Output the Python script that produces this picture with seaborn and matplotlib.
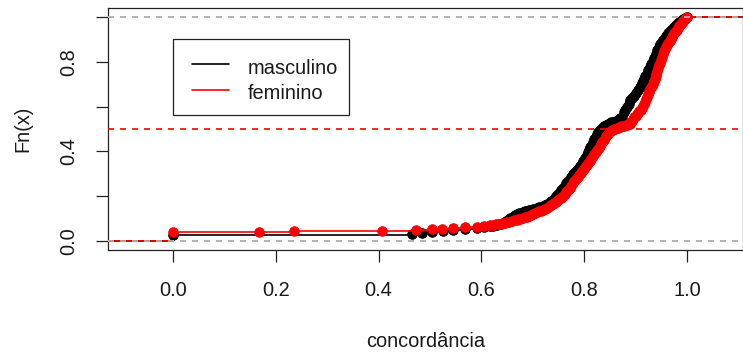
import numpy as np
import pandas as pd
import matplotlib
matplotlib.use("Agg")
import matplotlib.pyplot as plt
import seaborn as sns
from matplotlib.patches import Rectangle
from matplotlib.lines import Line2D

masc_x = [0.000, 0.465, 0.484, 0.504, 0.525, 0.545, 0.568, 0.591, 0.605,
          0.617, 0.622, 0.626, 0.630, 0.634, 0.638, 0.642, 0.647, 0.652, 0.656,
          0.661, 0.665, 0.669, 0.673, 0.677, 0.681, 0.685, 0.689, 0.692, 0.696,
          0.700, 0.704, 0.708, 0.712, 0.716, 0.720, 0.724, 0.728, 0.733, 0.736,
          0.740, 0.743, 0.746, 0.749, 0.752, 0.755, 0.759, 0.762, 0.765, 0.768,
          0.772, 0.775, 0.779, 0.782, 0.786, 0.789, 0.792, 0.795, 0.798, 0.801,
          0.805, 0.807, 0.810, 0.812, 0.815, 0.817, 0.820, 0.822, 0.825, 0.827,
          0.830, 0.833, 0.836, 0.839, 0.843, 0.846, 0.850, 0.853, 0.857, 0.861,
          0.865, 0.869, 0.873, 0.877, 0.880, 0.884, 0.887, 0.890, 0.893, 0.896,
          0.900, 0.904, 0.908, 0.912, 0.914, 0.917, 0.919, 0.922, 0.925, 0.928,
          0.930, 0.933, 0.936, 0.939, 0.942, 0.945, 0.948, 0.951, 0.954, 0.957,
          0.960, 0.963, 0.967, 0.970, 0.974, 0.978, 0.981, 0.985, 0.989, 0.993,
          0.996, 1.000]
masc_F = [0.027, 0.033, 0.037, 0.042, 0.046, 0.050, 0.055, 0.060, 0.063,
          0.066, 0.068, 0.070, 0.072, 0.075, 0.078, 0.082, 0.088, 0.095, 0.101,
          0.108, 0.114, 0.120, 0.124, 0.127, 0.130, 0.133, 0.136, 0.138, 0.140,
          0.142, 0.145, 0.147, 0.150, 0.152, 0.156, 0.160, 0.165, 0.170, 0.177,
          0.185, 0.192, 0.200, 0.209, 0.218, 0.228, 0.238, 0.248, 0.259, 0.269,
          0.279, 0.288, 0.298, 0.307, 0.317, 0.326, 0.336, 0.346, 0.356, 0.370,
          0.385, 0.396, 0.408, 0.419, 0.430, 0.442, 0.455, 0.466, 0.478, 0.487,
          0.495, 0.502, 0.508, 0.513, 0.518, 0.522, 0.527, 0.530, 0.534, 0.538,
          0.542, 0.548, 0.555, 0.575, 0.587, 0.600, 0.614, 0.628, 0.639, 0.650,
          0.662, 0.675, 0.690, 0.705, 0.715, 0.725, 0.736, 0.748, 0.763, 0.778,
          0.791, 0.805, 0.820, 0.835, 0.852, 0.868, 0.879, 0.890, 0.899, 0.908,
          0.918, 0.928, 0.938, 0.948, 0.957, 0.965, 0.972, 0.978, 0.984, 0.990,
          0.995, 1.000]

fem_x = [0.000, 0.167, 0.235, 0.407, 0.473, 0.504, 0.523, 0.545, 0.568, 0.591,
         0.606, 0.617, 0.622, 0.628, 0.634, 0.639, 0.642, 0.646, 0.650, 0.654,
         0.659, 0.664, 0.669, 0.672, 0.676, 0.680, 0.684, 0.688, 0.692, 0.696,
         0.700, 0.704, 0.708, 0.712, 0.716, 0.720, 0.724, 0.728, 0.733, 0.736,
         0.739, 0.742, 0.745, 0.748, 0.751, 0.754, 0.757, 0.760, 0.762, 0.765,
         0.767, 0.770, 0.772, 0.775, 0.778, 0.781, 0.784, 0.787, 0.790, 0.793,
         0.796, 0.799, 0.802, 0.805, 0.808, 0.811, 0.814, 0.817, 0.820, 0.823,
         0.825, 0.828, 0.830, 0.833, 0.835, 0.838, 0.840, 0.842, 0.844, 0.847,
         0.849, 0.852, 0.855, 0.858, 0.860, 0.863, 0.866, 0.869, 0.872, 0.875,
         0.878, 0.881, 0.884, 0.887, 0.889, 0.891, 0.893, 0.895, 0.897, 0.900,
         0.902, 0.905, 0.907, 0.910, 0.912, 0.914, 0.916, 0.918, 0.920, 0.922,
         0.924, 0.927, 0.929, 0.931, 0.933, 0.935, 0.937, 0.939, 0.940, 0.942,
         0.944, 0.946, 0.948, 0.950, 0.952, 0.954, 0.956, 0.958, 0.960, 0.962,
         0.964, 0.966, 0.968, 0.970, 0.973, 0.975, 0.978, 0.980, 0.983, 0.985,
         0.987, 0.990, 0.992, 0.995, 0.997, 1.000]
fem_F = [0.040, 0.042, 0.044, 0.046, 0.050, 0.053, 0.055, 0.058, 0.061, 0.064,
         0.067, 0.070, 0.072, 0.074, 0.076, 0.078, 0.080, 0.082, 0.084, 0.086,
         0.089, 0.092, 0.095, 0.097, 0.100, 0.103, 0.106, 0.109, 0.113, 0.116,
         0.120, 0.124, 0.128, 0.132, 0.136, 0.140, 0.145, 0.149, 0.155, 0.160,
         0.165, 0.170, 0.176, 0.181, 0.186, 0.191, 0.197, 0.204, 0.210, 0.217,
         0.224, 0.231, 0.239, 0.248, 0.258, 0.267, 0.276, 0.285, 0.294, 0.303,
         0.312, 0.321, 0.330, 0.340, 0.349, 0.358, 0.368, 0.378, 0.387, 0.396,
         0.405, 0.414, 0.424, 0.433, 0.443, 0.452, 0.461, 0.468, 0.474, 0.480,
         0.486, 0.491, 0.496, 0.499, 0.502, 0.505, 0.507, 0.510, 0.512, 0.514,
         0.516, 0.518, 0.520, 0.522, 0.525, 0.530, 0.537, 0.545, 0.552, 0.559,
         0.566, 0.573, 0.579, 0.585, 0.594, 0.603, 0.612, 0.622, 0.633, 0.645,
         0.656, 0.668, 0.680, 0.692, 0.703, 0.714, 0.726, 0.737, 0.748, 0.760,
         0.772, 0.785, 0.797, 0.810, 0.822, 0.835, 0.847, 0.858, 0.868, 0.878,
         0.887, 0.895, 0.902, 0.910, 0.919, 0.928, 0.937, 0.945, 0.953, 0.960,
         0.967, 0.975, 0.981, 0.988, 0.994, 1.000]

series_names = ["masculino", "feminino"]
series_colors = ["black", "red"]
x_ticks = [0.0, 0.2, 0.4, 0.6, 0.8, 1.0]
y_ticks = [0.0, 0.2, 0.4, 0.6, 0.8, 1.0]
y_ticklabels = ["0.0", "", "0.4", "", "0.8", ""]
x_label = "concordância"
y_label = "Fn(x)"
ref_line = 0.5

# ---- figure ----
sns.set_style("white")
plt.rcParams["font.family"] = ["Liberation Sans", "DejaVu Sans"]
W, H = 743, 354
fig = plt.figure(figsize=(W / 100, H / 100), dpi=100)
ax = fig.add_axes([108 / W, 1 - 250 / H, (742.5 - 108) / W, (250 - 8) / H])
xmin, xmax = -0.1265, 1.108
ax.set_xlim(xmin, xmax)
ax.set_ylim(-0.0402, 1.0413)

lw = 1.2
dash = (0, (3.6, 3.6))
FS = 14.4


def draw_ecdf(xs, Fs, color, z):
    df = pd.DataFrame({"x": xs, "F": Fs})
    starts = [xmin] + list(df["x"])
    ends = list(df["x"]) + [xmax]
    levels = [0.0] + list(df["F"])
    ax.hlines(levels, starts, ends, colors=color, linewidth=lw, zorder=z)
    sns.scatterplot(data=df, x="x", y="F", color=color, s=48, linewidth=0.6,
                    edgecolor=color, ax=ax, zorder=z + 0.1, legend=False)


def zero_one_lines(z):
    for v in (0.0, 1.0):
        ax.axhline(v, color="#B3B3B3", linewidth=lw, linestyle=dash, zorder=z)


draw_ecdf(masc_x, masc_F, series_colors[0], 2)
zero_one_lines(3)
draw_ecdf(fem_x, fem_F, series_colors[1], 4)
zero_one_lines(5)
ax.axhline(ref_line, color="red", linewidth=lw, linestyle=dash, zorder=6)

# axes styling
for s in ax.spines.values():
    s.set_color("#222222")
    s.set_linewidth(0.9)
ax.set_xticks(x_ticks)
ax.set_xticklabels([f"{t:.1f}" for t in x_ticks])
ax.set_yticks(y_ticks)
ax.set_yticklabels(y_ticklabels, rotation=90, va="center")
ax.tick_params(axis="both", direction="out", length=8.6, width=0.9,
               color="#222222", labelsize=FS, labelcolor="#1a1a1a")
ax.tick_params(axis="x", pad=14, bottom=True)
ax.tick_params(axis="y", pad=13, left=True)
ax.set_xlabel(x_label, fontsize=FS, color="#1a1a1a", labelpad=23)
ax.set_ylabel(y_label, fontsize=FS, color="#1a1a1a", labelpad=19)


# legend (drawn in figure pixel coordinates)
def fx(px):
    return px / W


def fy(py):
    return 1 - py / H


fig.add_artist(Rectangle((fx(173), fy(115)), fx(349) - fx(173), fy(39) - fy(115),
                         transform=fig.transFigure, facecolor="white",
                         edgecolor="#222222", linewidth=0.9, zorder=10))
for i, (name, col) in enumerate(zip(series_names, series_colors)):
    yl = 64 + 26 * i
    yb = 74 + 25 * i
    fig.add_artist(Line2D([fx(192), fx(229)], [fy(yl), fy(yl)], color=col,
                          linewidth=lw, transform=fig.transFigure, zorder=11))
    fig.text(fx(248), fy(yb), name, fontsize=FS, color="#1a1a1a",
             va="baseline", ha="left", zorder=11)

fig.savefig("out.png", dpi=100)
